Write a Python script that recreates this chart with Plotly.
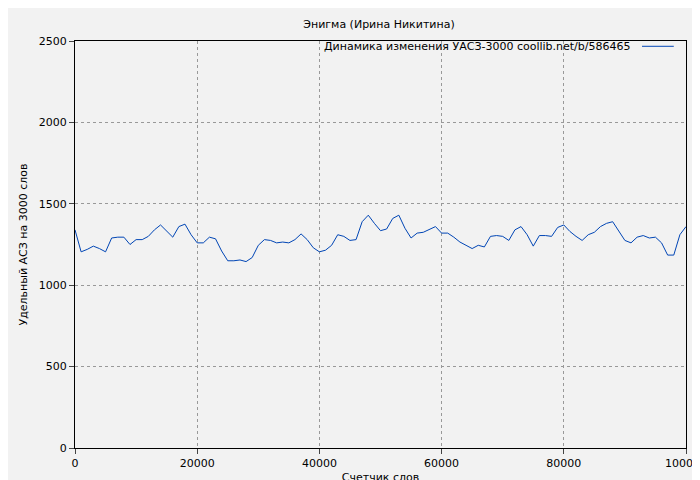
import plotly.graph_objects as go

words = list(range(0, 100001, 1000))
uasz = [1340,1205,1220,1240,1225,1205,1290,1295,1295,1250,1280,1280,1300,1340,1370,1330,1295,1360,1375,1310,
        1260,1260,1295,1285,1210,1150,1150,1155,1145,1170,1245,1280,1275,1260,1265,1260,1280,1315,1280,1230,
        1205,1215,1245,1310,1300,1275,1280,1390,1430,1380,1335,1345,1410,1430,1350,1290,1320,1325,1345,1360,
        1320,1320,1295,1265,1245,1225,1245,1235,1300,1305,1300,1275,1340,1360,1310,1240,1305,1305,1300,1355,
        1370,1330,1300,1275,1310,1325,1360,1380,1390,1330,1275,1260,1295,1305,1290,1295,1260,1185,1185,1310,1360]
legend_text = "Динамика изменения УАСЗ-3000 coollib.net/b/586465"
line_color = "#0045b5"

fig = go.Figure(go.Scatter(x=words, y=uasz, mode="lines", line=dict(color=line_color, width=1),
                           name=legend_text, showlegend=False))
axis = dict(showline=True, linecolor="black", linewidth=1, mirror=True, ticks="outside", ticklen=5,
            gridcolor="#999999", griddash="dot", zeroline=False, automargin=False,
            tickfont=dict(size=11, color="black"), tickformat="d")
fig.update_layout(
    width=700, height=480, paper_bgcolor="#f2f2f2", plot_bgcolor="#f2f2f2",
    font=dict(family="DejaVu Sans", size=11, color="black"),
    title=dict(text="Энигма (Ирина Никитина)", x=0.53, y=0.975, font=dict(size=11)),
    margin=dict(l=67, r=22, t=33, b=40),
    annotations=[dict(text=legend_text, xref="paper", yref="paper", x=0.913, y=0.987,
                      xanchor="right", yanchor="middle", showarrow=False, font=dict(size=11))],
    shapes=[dict(type="line", xref="paper", yref="paper", x0=0.928, x1=0.98, y0=0.987, y1=0.987,
                 line=dict(color=line_color, width=1))],
)
fig.update_xaxes(axis, range=[0, 100000], dtick=20000, title=dict(text="Счетчик слов", standoff=4, font=dict(size=11)))
fig.update_yaxes(axis, range=[0, 2500], dtick=500, title=dict(text="Удельный АСЗ на 3000 слов", standoff=8, font=dict(size=11)))
fig.write_html("out.html")
